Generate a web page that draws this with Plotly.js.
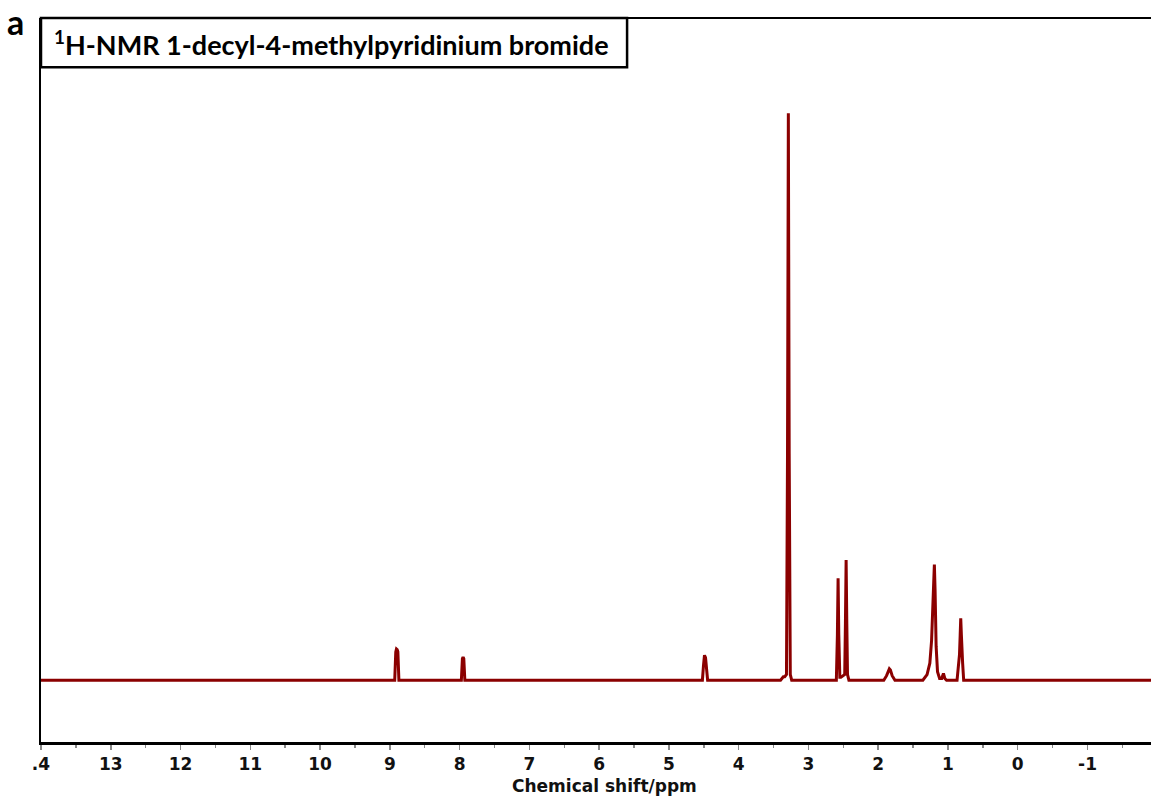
<!DOCTYPE html>
<html>
<head>
<meta charset="utf-8">
<script src="https://cdn.plot.ly/plotly-3.0.1.min.js"></script>
<style>html,body{margin:0;padding:0;background:#fff;}#chart{width:1151px;height:798px;}</style>
</head>
<body>
<div id="chart"></div>
<script>
// Chemical shift (ppm) and intensity (normalised to the 3.29 ppm solvent peak)
const shiftPpm = [
  14.2, 9.00,
  8.93, 8.915, 8.905, 8.895, 8.885, 8.87,
  8.00, 7.975, 7.96, 7.95, 7.94, 7.925,
  5.00, 4.52, 4.505, 4.49, 4.475, 4.46, 4.445,
  3.40, 3.36, 3.34, 3.315, 3.30, 3.288, 3.276, 3.26, 3.24,
  2.60, 2.585, 2.575, 2.565, 2.55,
  2.535, 2.48, 2.47, 2.46, 2.45, 2.44, 2.42,
  1.92, 1.88, 1.855, 1.84, 1.825, 1.80, 1.76,
  1.36, 1.30, 1.26, 1.235, 1.215, 1.205, 1.195, 1.185, 1.17, 1.15, 1.12,
  1.09, 1.065, 1.045, 1.02,
  0.87, 0.845, 0.835, 0.825, 0.817, 0.808, 0.80, 0.79, 0.775,
  0.50, -2.0
];
const intensity = [
  0, 0,
  0, 0.050, 0.055, 0.054, 0.050, 0,
  0, 0, 0.038, 0.041, 0.038, 0,
  0, 0, 0.025, 0.044, 0.040, 0.025, 0,
  0, 0.006, 0.006, 0.010, 0.40, 1.00, 0.40, 0.010, 0,
  0, 0.08, 0.180, 0.08, 0.005,
  0.005, 0.010, 0.10, 0.212, 0.10, 0.010, 0,
  0, 0.008, 0.018, 0.020, 0.018, 0.008, 0,
  0, 0.010, 0.030, 0.070, 0.160, 0.204, 0.204, 0.160, 0.060, 0.015, 0.003,
  0.003, 0.012, 0.003, 0,
  0, 0.040, 0.045, 0.080, 0.109, 0.080, 0.040, 0.030, 0,
  0, 0
];
const tickValues = [14, 13, 12, 11, 10, 9, 8, 7, 6, 5, 4, 3, 2, 1, 0, -1];
const tickLabels = [".4", "13", "12", "11", "10", "9", "8", "7", "6", "5", "4", "3", "2", "1", "0", "-1"];

const trace = {
  x: shiftPpm, y: intensity, type: 'scatter', mode: 'lines',
  line: {color: '#8b0000', width: 3}, hoverinfo: 'skip', showlegend: false
};

const layout = {
  width: 1151, height: 798,
  margin: {l: 41, r: 0, t: 18, b: 56},
  paper_bgcolor: '#ffffff', plot_bgcolor: '#ffffff',
  xaxis: {
    range: [14, -1.91], autorange: false,
    tickmode: 'array', tickvals: tickValues, ticktext: tickLabels,
    ticks: 'outside', ticklen: 5, tickwidth: 1.5, tickcolor: '#888',
    minor: {dtick: 0.5, ticks: 'outside', ticklen: 3, tickwidth: 1.5, tickcolor: '#888'},
    showline: true, linecolor: '#000', linewidth: 3,
    showgrid: false, zeroline: false,
    tickfont: {family: 'DejaVu Sans', size: 17, color: '#111', weight: 'bold'}
  },
  yaxis: {
    range: [-0.109, 1.168], autorange: false,
    showticklabels: false, ticks: '', showgrid: false, zeroline: false,
    showline: true, linecolor: '#000', linewidth: 2
  },
  shapes: [
    {type: 'line', xref: 'paper', yref: 'paper', x0: 0, x1: 1, y0: 1, y1: 1,
     line: {color: '#000', width: 2}},
    {type: 'rect', xref: 'paper', yref: 'paper', x0: 0, x1: 0.528, y0: 0.932, y1: 1,
     line: {color: '#000', width: 2.5}, fillcolor: '#fff'}
  ],
  annotations: [
    {xref: 'paper', yref: 'paper', x: 0.0099, y: 0.966, xanchor: 'left', yanchor: 'middle',
     showarrow: false, text: '<sup>1</sup>H-NMR 1-decyl-4-methylpyridinium bromide',
     font: {family: 'Lato', size: 27, color: '#000', weight: 'bold'}},
    {xref: 'paper', yref: 'paper', x: -0.023, y: 0.9945, xanchor: 'center', yanchor: 'middle',
     showarrow: false, text: 'a',
     font: {family: 'Lato', size: 34, color: '#000', weight: 'bold'}},
    {xref: 'paper', yref: 'paper', x: 0.508, y: -0.0608, xanchor: 'center', yanchor: 'middle',
     showarrow: false, text: 'Chemical shift/ppm',
     font: {family: 'DejaVu Sans', size: 17, color: '#111', weight: 'bold'}}
  ]
};

Plotly.newPlot('chart', [trace], layout, {displayModeBar: false, staticPlot: true});
</script>
</body>
</html>
